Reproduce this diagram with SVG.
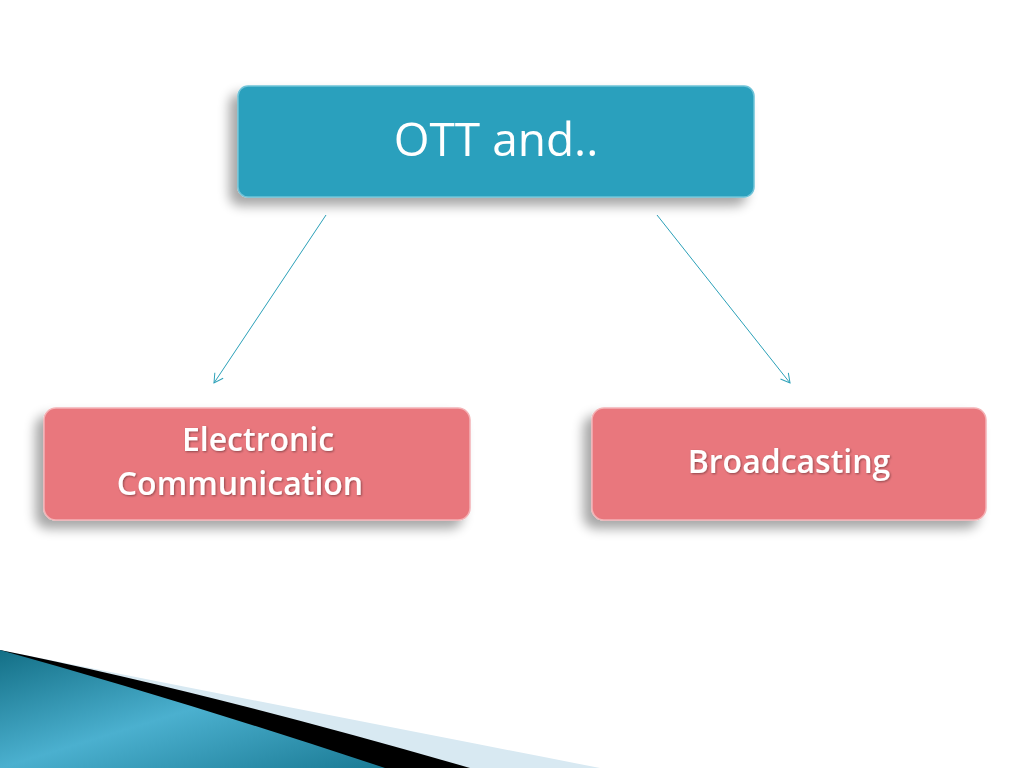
<svg xmlns="http://www.w3.org/2000/svg" width="1024" height="768" viewBox="0 0 1024 768">
<style>
.t{font-family:"Open Sans","DejaVu Sans",sans-serif;fill:#fff;text-anchor:middle}
.c{stroke:#2ba0b8;stroke-width:1;fill:none}
</style>
<defs>
<filter id="sh" x="-10%" y="-20%" width="120%" height="150%"><feGaussianBlur in="SourceAlpha" stdDeviation="6"/><feOffset dx="-8" dy="8"/><feComponentTransfer><feFuncA type="linear" slope="0.35"/></feComponentTransfer><feMerge><feMergeNode/><feMergeNode in="SourceGraphic"/></feMerge></filter>
<filter id="ts"><feDropShadow dx="1" dy="1" stdDeviation="0.8" flood-color="#000" flood-opacity="0.4"/></filter>
<linearGradient id="bg" x1="0" y1="0" x2="1" y2="1"><stop offset="0" stop-color="#136f86"/><stop offset="0.5" stop-color="#4bb0cf"/><stop offset="1" stop-color="#1a7a94"/></linearGradient>
<marker id="a" markerWidth="12" markerHeight="12" refX="10" refY="6" orient="auto" markerUnits="userSpaceOnUse"><path d="M1,1 L10,6 L1,11" fill="none" stroke="#2ba0b8"/></marker>
</defs>
<rect width="1024" height="768" fill="#fff"/>
<path d="M0,650 Q250,700 600,768 L0,768 Z" fill="#d8e9f2"/>
<path d="M0,650 Q200,690 470,768 L0,768 Z" fill="#000"/>
<path d="M0,650 Q180,700 385,768 L0,768 Z" fill="url(#bg)"/>
<g id="connectors">
<line class="c" x1="326" y1="215" x2="214" y2="383" marker-end="url(#a)"/>
<line class="c" x1="657" y1="215" x2="790" y2="383" marker-end="url(#a)"/>
</g>
<g id="n1" filter="url(#sh)">
<rect x="238" y="86" width="516" height="111" rx="10" fill="#2ba0bd" stroke="#6fc3d8" stroke-width="1.5"/>
<text class="t" x="496" y="156" font-size="46">OTT and..</text>
</g>
<g id="n2" filter="url(#sh)">
<rect x="44" y="408" width="426" height="112" rx="12" fill="#e9777d" stroke="#f4b3b6" stroke-width="1.5"/>
<text class="t" x="258" y="451" font-size="32" font-weight="600" filter="url(#ts)">Electronic</text>
<text class="t" x="240" y="495" font-size="32" font-weight="600" filter="url(#ts)">Communication</text>
</g>
<g id="n3" filter="url(#sh)">
<rect x="592" y="408" width="394" height="112" rx="12" fill="#e9777d" stroke="#f4b3b6" stroke-width="1.5"/>
<text class="t" x="789" y="473" font-size="32" font-weight="600" filter="url(#ts)">Broadcasting</text>
</g>
</svg>
